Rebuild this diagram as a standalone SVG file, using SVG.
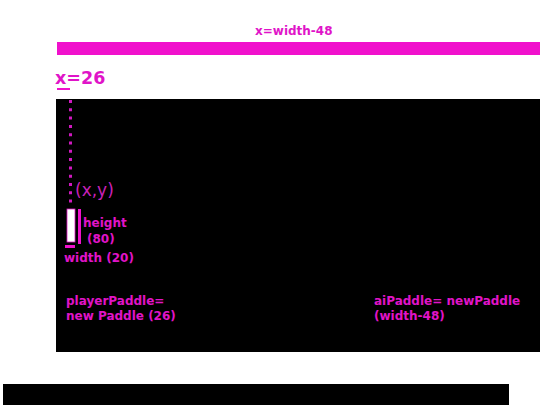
<svg xmlns="http://www.w3.org/2000/svg" width="540" height="405" viewBox="0 0 540 405">
<style>
.t{font-family:"DejaVu Sans",sans-serif;font-weight:bold;fill:#e014c8;font-size:12px}
.m{fill:#f011cc}
</style>
<rect width="540" height="405" fill="#fff"/>
<g id="topbar"><rect class="m" x="57" y="42" width="483" height="13"/><text class="t" x="255" y="35">x=width-48</text></g>
<g id="xlabel"><text class="t" x="55" y="84" style="font-size:17.5px">x=26</text><rect class="m" x="57" y="88" width="13" height="2"/></g>
<g id="canvas"><rect x="56" y="99" width="484" height="253" fill="#000"/></g>
<g id="connectors"><line x1="70.5" y1="100" x2="70.5" y2="206" stroke="#d018c0" stroke-width="3" stroke-dasharray="3,5.3"/></g>
<g id="paddle">
<rect x="67" y="209" width="8" height="33" fill="#fff" stroke="#e014c8" stroke-width="0.8"/>
<rect class="m" x="78" y="209" width="3" height="35"/>
<rect class="m" x="65" y="245" width="10" height="3"/>
<text class="t" x="75" y="196" style="font-weight:normal;font-size:17px;fill:#c820b8">(x,y)</text>
<text class="t" x="83" y="227">height</text>
<text class="t" x="87" y="243">(80)</text>
<text class="t" x="64" y="262">width (20)</text>
</g>
<g id="player"><text class="t" x="66" y="305">playerPaddle=</text><text class="t" x="66" y="320">new Paddle (26)</text></g>
<g id="ai"><text class="t" x="374" y="305">aiPaddle= newPaddle</text><text class="t" x="374" y="320">(width-48)</text></g>
<g id="bottombar"><rect x="3" y="384" width="506" height="21" fill="#000"/></g>
</svg>
